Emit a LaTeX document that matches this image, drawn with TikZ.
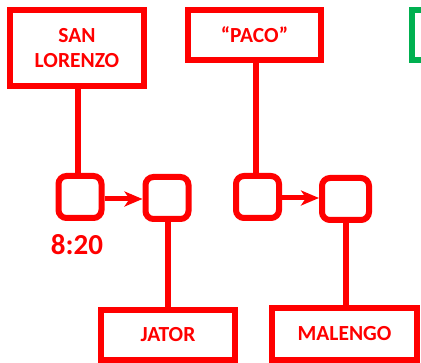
\documentclass[tikz,border=0pt]{standalone}
\usepackage{fontspec}
\setmainfont{Carlito}
\usetikzlibrary{arrows.meta}
\definecolor{offgreen}{RGB}{0,176,80}
\begin{document}
\begin{tikzpicture}[x=1pt, y=-1pt, line width=6pt,
    place/.style={draw=red, text=red, font=\fontsize{21.5}{25}\selectfont\bfseries,
      inner sep=0pt, align=center, minimum height=50pt},
    slot/.style={draw=red, rounded corners=8pt, inner sep=0pt,
      minimum width=43pt, minimum height=42pt},
    link/.style={red},
    hop/.style={red, line width=5pt, -{Stealth[length=18pt, width=15pt, inset=5pt]}}]
  \useasboundingbox (0,0) rectangle (421,363);
  \node [place, minimum width=134pt, minimum height=76pt] (sanlorenzo) at (77,48) {SAN\\LORENZO};
  \node [place, minimum width=133pt] (paco) at (254.5,35) {“PACO”};
  \node [place, draw=offgreen, minimum width=133pt] (extra) at (478,35) {};
  \node [slot] (s1) at (80,197) {};
  \node [slot] (s2) at (167,198) {};
  \node [slot] (s3) at (257.5,197) {};
  \node [slot, minimum width=47pt] (s4) at (345.5,199) {};
  \node [place, minimum width=134pt] (jator) at (168,335) {JATOR};
  \node [place, minimum width=145pt, minimum height=52pt] (malengo) at (344.5,334) {MALENGO};
  \node [text=red, font=\fontsize{29}{30}\selectfont\bfseries] (hora) at (77,245) {8:20};
  \draw [link] (s1.north -| 78,0) -- (78,0 |- sanlorenzo.south);
  \draw [link] (s3.north -| 256,0) -- (256,0 |- paco.south);
  \draw [link] (s2.south -| 168,0) -- (168,0 |- jator.north);
  \draw [link] (s4.south -| 346,0) -- (346,0 |- malengo.north);
  \draw [hop] (s1.east |- 0,199) -- (s2.west |- 0,199);
  \draw [hop] (s3.east |- 0,198) -- (s4.west |- 0,198);
\end{tikzpicture}
\end{document}
